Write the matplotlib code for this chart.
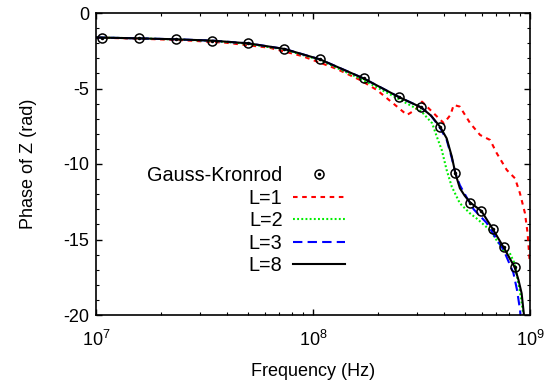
import matplotlib
matplotlib.use("Agg")
import matplotlib.pyplot as plt
from matplotlib.ticker import MultipleLocator, LogLocator, NullFormatter
from matplotlib.legend_handler import HandlerTuple

plt.rcParams['font.family'] = ['Liberation Sans', 'DejaVu Sans']
plt.rcParams['mathtext.fontset'] = 'custom'
plt.rcParams['mathtext.rm'] = 'Liberation Sans'
plt.rcParams['mathtext.it'] = 'Liberation Sans'
plt.rcParams['axes.unicode_minus'] = False

# Gauss-Kronrod reference points
gk_freq = [1.07e7, 1.58e7, 2.33e7, 3.43e7, 5.04e7, 7.38e7, 1.077e8, 1.71e8,
           2.50e8, 3.15e8, 3.85e8, 4.53e8, 5.31e8, 5.97e8, 6.73e8, 7.56e8, 8.50e8]
gk_phase = [-1.63, -1.68, -1.74, -1.83, -2.01, -2.38, -3.07, -4.33,
            -5.58, -6.25, -7.53, -10.62, -12.56, -13.11, -14.30, -15.52, -16.84]

# L=1
l1_freq = [1.0e7, 1.58e7, 2.51e7, 3.98e7, 6.31e7, 8.91e7, 1.285e8, 1.65e8, 1.97e8,
           2.44e8, 2.71e8, 2.96e8, 3.18e8, 3.54e8, 4.01e8, 4.30e8, 4.45e8, 4.75e8,
           5.30e8, 5.89e8, 6.55e8, 7.03e8, 7.82e8, 8.53e8, 8.99e8, 9.48e8, 9.75e8,
           9.93e8, 1.0e9]
l1_phase = [-1.63, -1.70, -1.80, -1.97, -2.30, -2.85, -3.70, -4.44, -5.10,
            -6.20, -6.75, -6.42, -5.87, -6.54, -7.30, -6.75, -6.09, -6.20,
            -7.30, -8.08, -8.41, -9.29, -10.40, -10.95, -11.94, -13.26, -14.59,
            -16.14, -16.60]

# L=2
l2_freq = [1.0e7, 1.58e7, 2.33e7, 3.43e7, 5.04e7, 7.38e7, 1.077e8, 1.71e8, 2.50e8,
           3.15e8, 3.54e8, 3.72e8, 3.92e8, 4.13e8, 4.36e8, 4.75e8, 5.28e8, 5.67e8,
           6.53e8, 7.52e8, 8.07e8, 8.50e8, 9.00e8, 9.33e8, 9.45e8]
l2_phase = [-1.62, -1.68, -1.75, -1.85, -2.04, -2.42, -3.12, -4.45, -5.72,
            -6.50, -7.30, -8.19, -9.07, -10.40, -11.50, -12.60, -13.26, -13.60,
            -14.37, -15.70, -15.90, -16.60, -18.50, -20.00, -20.80]

# L=3
l3_freq = [1.0e7, 1.58e7, 2.33e7, 3.43e7, 5.04e7, 7.38e7, 1.077e8, 1.71e8, 2.50e8,
           3.15e8, 3.50e8, 3.85e8, 4.13e8, 4.36e8, 4.53e8, 4.75e8, 5.10e8, 5.50e8,
           6.31e8, 7.03e8, 7.56e8, 8.38e8, 8.70e8, 9.00e8, 9.10e8]
l3_phase = [-1.62, -1.68, -1.74, -1.83, -2.01, -2.38, -3.07, -4.33, -5.58,
            -6.25, -6.80, -7.60, -8.40, -9.60, -10.60, -11.40, -12.20, -13.00,
            -13.90, -15.00, -15.70, -17.20, -18.30, -19.67, -20.60]

# L=8
l8_freq = [1.0e7, 1.07e7, 1.58e7, 2.33e7, 3.43e7, 5.04e7, 7.38e7, 1.077e8, 1.71e8,
           2.50e8, 3.15e8, 3.50e8, 3.85e8, 4.13e8, 4.36e8, 4.53e8, 4.75e8, 5.00e8,
           5.31e8, 5.97e8, 6.73e8, 7.56e8, 8.50e8, 8.85e8, 9.15e8, 9.38e8, 9.45e8]
l8_phase = [-1.62, -1.63, -1.68, -1.74, -1.83, -2.01, -2.38, -3.07, -4.33,
            -5.58, -6.25, -6.80, -7.53, -8.30, -9.50, -10.62, -11.60, -12.10,
            -12.56, -13.11, -14.30, -15.52, -16.84, -17.68, -18.56, -20.00, -20.50]

series_labels = ['Gauss-Kronrod', 'L=1', 'L=2', 'L=3', 'L=8']

fig = plt.figure(figsize=(5.57, 3.81), dpi=100)
ax = fig.add_axes([96/557, 66/381, 434/557, 302/381])

lw = 1.5
h1, = ax.plot(l1_freq, l1_phase, color='#ff0000', lw=lw, dashes=(2.2, 2.2))
h2, = ax.plot(l2_freq, l2_phase, color='#00ee00', lw=lw, dashes=(0.9, 1.1))
h3, = ax.plot(l3_freq, l3_phase, color='#0000ff', lw=lw, dashes=(4.5, 2.5))
h8, = ax.plot(l8_freq, l8_phase, color='black', lw=lw)
hc, = ax.plot(gk_freq, gk_phase, linestyle='none', marker='o', markersize=6.5,
              markerfacecolor='none', markeredgecolor='black', markeredgewidth=1.1)
hd, = ax.plot(gk_freq, gk_phase, linestyle='none', marker='o', markersize=1.5,
              markerfacecolor='black', markeredgecolor='black')

ax.set_xscale('log')
ax.set_xlim(1e7, 1e9)
ax.set_ylim(-20, 0)
ax.yaxis.set_major_locator(MultipleLocator(5))
ax.yaxis.set_minor_locator(MultipleLocator(1))
ax.xaxis.set_minor_locator(LogLocator(base=10, subs=range(2, 10)))
ax.xaxis.set_minor_formatter(NullFormatter())
ax.tick_params(which='both', direction='in', top=True, right=True, labelsize=13)
ax.tick_params(which='major', length=4.5, width=1)
ax.tick_params(which='minor', length=2.5, width=0.8)
ax.tick_params(axis='x', pad=11)
ax.tick_params(axis='y', pad=5)
for s in ax.spines.values():
    s.set_linewidth(1.2)

ax.set_xlabel('Frequency (Hz)', fontsize=13, labelpad=9)
ax.set_ylabel('Phase of Z (rad)', fontsize=13, labelpad=19)

leg = ax.legend([(hc, hd), h1, h2, h3, h8], series_labels,
                handler_map={tuple: HandlerTuple(ndivide=1)},
                markerfirst=False, frameon=False, fontsize=14.3,
                handlelength=2.6, handletextpad=0.55, labelspacing=0.17,
                borderpad=0, loc='upper right', bbox_to_anchor=(0.574, 0.492),
                borderaxespad=0)

fig.savefig('out.png', dpi=100)
